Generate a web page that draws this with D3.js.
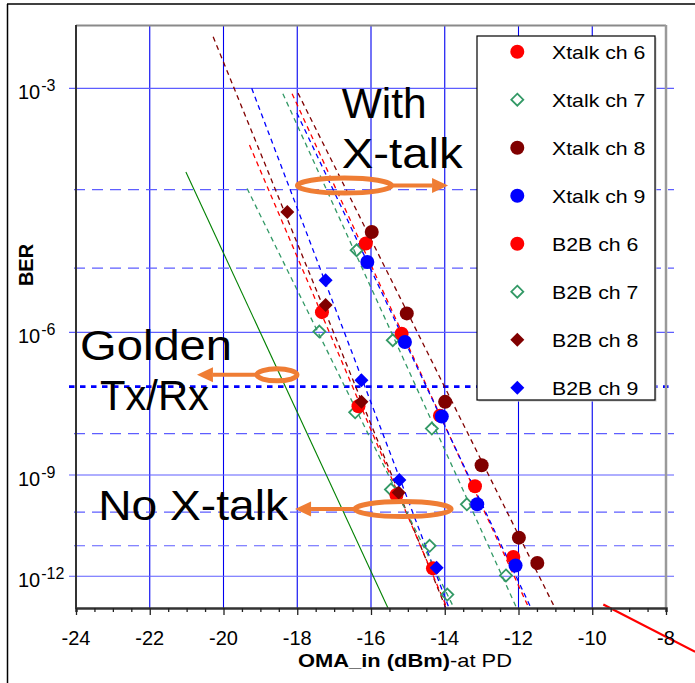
<!DOCTYPE html>
<html><head><meta charset="utf-8">
<script src="https://cdn.jsdelivr.net/npm/d3@7"></script>
<style>body{margin:0;background:#fff}svg{display:block}text{font-family:"Liberation Sans",Arial,sans-serif}</style>
</head><body>
<svg id="c" width="695" height="683"></svg>
<script>
// ---------- data ----------
const xTicks = [-24,-22,-20,-18,-16,-14,-12,-10,-8];
const xTickLabels = ["-24","-22","-20","-18","-16","-14","-12","-10","-8"];
const yMajor = [1e-3,1e-6,1e-9,1e-12];
const yTickLabels = ["-3","-6","-9","-12"];
const yMinorDashed = [1e-4,1e-5,1e-8,1e-10,1e-11];
const yDotted = [1e-7];

const seriesNames = ["Xtalk ch 6","Xtalk ch 7","Xtalk ch 8","Xtalk ch 9","B2B ch 6","B2B ch 7","B2B ch 8","B2B ch 9"];
const xtalk6 = [[-16.14,2.18e-5],[-15.17,9.5e-7],[-14.13,2.5e-8],[-13.18,5.1e-10],[-12.14,4.4e-12]];
const xtalk7 = [[-16.39,1.77e-5],[-15.41,7.3e-7],[-14.35,1.3e-8],[-13.40,1.66e-10],[-12.34,1.07e-12]];
const xtalk8 = [[-15.98,3.08e-5],[-15.03,2.06e-6],[-13.99,4.9e-8],[-13.00,1.76e-9],[-11.99,1.77e-11],[-11.49,2.8e-12]];
const xtalk9 = [[-16.10,1.22e-5],[-15.08,6.8e-7],[-14.08,2.4e-8],[-13.12,1.66e-10],[-12.08,2.3e-12]];
const b2b6 = [[-17.33,2.16e-6],[-16.34,3.96e-8],[-15.31,3.0e-10],[-14.32,1.86e-12]];
const b2b7 = [[-17.40,1.03e-6],[-16.43,2.95e-8],[-15.46,4.2e-10],[-14.41,9.9e-12],[-13.93,2.3e-13]];
const b2b8 = [[-18.27,5.47e-5],[-17.23,2.8e-6],[-16.26,4.9e-8],[-15.25,3.5e-10]];
const b2b9 = [[-17.23,6.7e-6],[-16.26,1.33e-7],[-15.23,7.5e-10],[-14.22,1.93e-12]];

// fitted trend lines (two end points each)
const fitXtalk6 = [[-18.14,9.0e-4],[-11.72,7.4e-14]];
const fitXtalk7 = [[-18.39,9.0e-4],[-12.05,7.4e-14]];
const fitXtalk8 = [[-17.98,9.1e-4],[-11.01,7.4e-14]];
const fitXtalk9 = [[-18.01,6.05e-4],[-11.66,7.4e-14]];
const fitB2b6 = [[-19.295,2.99e-4],[-13.94,7.4e-14]];
const fitB2b7 = [[-19.36,1.03e-4],[-13.75,7.4e-14]];
const fitB2b8 = [[-20.28,2.56e-3],[-13.97,7.4e-14]];
const fitB2b9 = [[-19.235,1.0e-3],[-13.885,7.4e-14]];
const goldenLine = [[-21.02,1.57e-4],[-15.54,7.4e-14]];
const redMarkLine = [[-9.70,1e-13],[-7.21,1.35e-15]];

// annotations (data coords)
const ellipses = [
  {x:-16.72, ber:1.11e-4, rx:47, ry:7.5, arrowFrom:-15.43, arrowTo:-13.91},
  {x:-18.55, ber:1.7e-7, rx:20, ry:6, arrowFrom:-19.09, arrowTo:-20.72},
  {x:-15.13, ber:1.22e-10, rx:48, ry:7.5, arrowFrom:-16.43, arrowTo:-18.06}
];
const annoTexts = [
  {t:"With", x:-16.795, ber:5.4e-4, size:42, w:85},
  {t:"X-talk", x:-16.795, ber:1.72e-4, size:42, w:121},
  {t:"Golden", x:-23.89, ber:3.2e-7, size:43, w:152},
  {t:"Tx/Rx", x:-23.35, ber:3.3e-8, size:42, w:109},
  {t:"No X-talk", x:-23.40, ber:5.9e-11, size:42, w:190}
];

// ---------- scales ----------
const L=76, R=666, T=25, B=608;
const x = d3.scaleLinear().domain([-24,-8]).range([L,R]);
const yQ = d3.scaleLog().domain([2.506,13.13]).range([T,B]);
const y = ber => yQ(-Math.log10(ber));

const svg = d3.select("#c");

// outer frame
svg.append("line").attr("x1",7).attr("x2",695).attr("y1",4).attr("y2",4).attr("stroke","#000").attr("stroke-width",1.5);
svg.append("line").attr("x1",7.5).attr("x2",7.5).attr("y1",4).attr("y2",683).attr("stroke","#000").attr("stroke-width",1.5);

// grid
const g = svg.append("g");
g.selectAll(".vg").data(xTicks.slice(1,-1)).join("line")
  .attr("x1",d=>x(d)).attr("x2",d=>x(d)).attr("y1",T).attr("y2",B)
  .attr("stroke","#0000f0").attr("stroke-width",1.1);
g.selectAll(".hg").data(yMajor).join("line")
  .attr("x1",L-7).attr("x2",R+8).attr("y1",d=>y(d)).attr("y2",d=>y(d))
  .attr("stroke","#5e5eff").attr("stroke-width",1.1);
g.selectAll(".hd").data(yMinorDashed).join("line")
  .attr("x1",L-2).attr("x2",R+8).attr("y1",d=>y(d)).attr("y2",d=>y(d))
  .attr("stroke","#5e5eff").attr("stroke-width",1.1).attr("stroke-dasharray","11,7");
g.selectAll(".hdot").data(yDotted).join("line")
  .attr("x1",L-7).attr("x2",R+8).attr("y1",d=>y(d)).attr("y2",d=>y(d))
  .attr("stroke","#0000ff").attr("stroke-width",2.6).attr("stroke-dasharray","5.5,5.5");

// clip
svg.append("clipPath").attr("id","pc").append("rect").attr("x",L).attr("y",T).attr("width",R-L).attr("height",B-T);
const plot = svg.append("g").attr("clip-path","url(#pc)");

const colors = {red:"#ff0000", green:"#339966", dred:"#800000", blue:"#0000ff"};
const fits = [
  [fitB2b8,colors.dred],[fitB2b9,colors.blue],[fitB2b6,colors.red],[fitB2b7,colors.green],
  [fitXtalk7,colors.green],[fitXtalk6,colors.red],[fitXtalk9,colors.blue],[fitXtalk8,colors.dred]
];
const lineGen = d3.line().x(d=>x(d[0])).y(d=>y(d[1]));
fits.forEach(([d,c])=>{
  plot.append("path").attr("d",lineGen(d)).attr("fill","none").attr("stroke",c)
    .attr("stroke-width",1.3).attr("stroke-dasharray","5,4");
});
plot.append("path").attr("d",lineGen(goldenLine)).attr("fill","none").attr("stroke","#008000").attr("stroke-width",1.1);

// markers
const diamond = s => `M0,${-s}L${s},0L0,${s}L${-s},0Z`;
const styles = [
  {data:xtalk6, shape:"circle", fill:colors.red, stroke:"none"},
  {data:xtalk7, shape:"odiamond", fill:"#fff", stroke:colors.green},
  {data:xtalk8, shape:"circle", fill:colors.dred, stroke:"none"},
  {data:xtalk9, shape:"circle", fill:colors.blue, stroke:"none"},
  {data:b2b6, shape:"circle", fill:colors.red, stroke:"none"},
  {data:b2b7, shape:"odiamond", fill:"#fff", stroke:colors.green},
  {data:b2b8, shape:"diamond", fill:colors.dred, stroke:"none"},
  {data:b2b9, shape:"diamond", fill:colors.blue, stroke:"none"}
];
function drawMarker(sel, st){
  if(st.shape==="circle") sel.append("circle").attr("r",7).attr("fill",st.fill);
  else if(st.shape==="diamond") sel.append("path").attr("d",diamond(7)).attr("fill",st.fill);
  else sel.append("path").attr("d",diamond(6)).attr("fill","none").attr("stroke",st.stroke).attr("stroke-width",1.8);
}
const markOrder = [5,4,6,7,1,0,3,2];
markOrder.forEach(i=>{
  const st = styles[i];
  st.data.forEach(p=>{
    const m = svg.append("g").attr("transform",`translate(${x(p[0])},${y(p[1])})`);
    drawMarker(m, st);
  });
});

// red line bottom right
svg.append("path").attr("d",lineGen(redMarkLine)).attr("stroke","#ff0000").attr("stroke-width",2.2).attr("fill","none");

// axes / frame
svg.append("line").attr("x1",L).attr("x2",R).attr("y1",T+0.5).attr("y2",T+0.5).attr("stroke","#8a8a8a").attr("stroke-width",2);
svg.append("line").attr("x1",R).attr("x2",R).attr("y1",T).attr("y2",B).attr("stroke","#9a9a9a").attr("stroke-width",2.5);
svg.append("line").attr("x1",L).attr("x2",L).attr("y1",T).attr("y2",B+1).attr("stroke","#333").attr("stroke-width",2);
const xAxis = d3.axisBottom(x).tickValues(d3.range(-24,-7.99,0.5)).tickSize(4).tickFormat("");
const ax = svg.append("g").attr("transform",`translate(0,${B})`).call(xAxis);
ax.select(".domain").attr("stroke","#333").attr("stroke-width",2.5);
ax.selectAll(".tick line").attr("stroke","#222").attr("stroke-width",1.3)
  .attr("y2",d=>Number.isInteger(d/2)?7:4);
svg.selectAll(".xl").data(xTicks).join("text")
  .attr("x",(d)=>x(d)).attr("y",645).attr("text-anchor","middle")
  .attr("font-size",20).attr("fill","#000").text((d,i)=>xTickLabels[i]);

// y tick labels
yMajor.forEach((v,i)=>{
  const t = svg.append("text").attr("x",18).attr("y",y(v)+11).attr("font-size",20).attr("fill","#000");
  t.append("tspan").text("10");
  t.append("tspan").attr("dy",-8).attr("font-size",16).attr("dx",1).text(yTickLabels[i]);
});

// axis titles
svg.append("text").attr("transform","translate(33,265) rotate(-90)").attr("text-anchor","middle")
  .attr("font-size",20).attr("font-weight","bold").text("BER");
const xt = svg.append("text").attr("x",298).attr("y",667).attr("font-size",19);
xt.append("tspan").attr("font-weight","bold").text("OMA_in (dBm)");
xt.append("tspan").text("-at PD");
xt.attr("textLength",214).attr("lengthAdjust","spacingAndGlyphs");

// legend
const lg = svg.append("g");
lg.append("rect").attr("x",478.5).attr("y",37.5).attr("width",178).attr("height",364).attr("fill","#c8c8c8");
lg.append("rect").attr("x",477).attr("y",36).attr("width",178).attr("height",364).attr("fill","#fff").attr("stroke","#000").attr("stroke-width",1.2);
seriesNames.forEach((n,i)=>{
  const cy = 51.7 + i*48;
  const m = lg.append("g").attr("transform",`translate(517.3,${cy})`);
  drawMarker(m, styles[i]);
  const t = lg.append("text").attr("x",552).attr("y",cy+6.8).attr("font-size",19).attr("fill","#000").text(n);
  const w = t.node().getComputedTextLength();
  t.attr("textLength",w*1.12).attr("lengthAdjust","spacingAndGlyphs");
});

// annotations
const orange = "#ef7d34";
ellipses.forEach(e=>{
  const cy = y(e.ber);
  svg.append("ellipse").attr("cx",x(e.x)).attr("cy",cy).attr("rx",e.rx).attr("ry",e.ry)
    .attr("fill","none").attr("stroke",orange).attr("stroke-width",5);
  const x0 = x(e.arrowFrom), x1 = x(e.arrowTo), dir = Math.sign(x1-x0);
  const xb = x1 - dir*16;
  svg.append("line").attr("x1",x0).attr("x2",xb).attr("y1",cy).attr("y2",cy).attr("stroke",orange).attr("stroke-width",4);
  svg.append("path").attr("d",`M${x1},${cy}L${xb},${cy-7.5}L${xb},${cy+7.5}Z`).attr("fill",orange);
});
annoTexts.forEach(a=>{
  svg.append("text").attr("x",x(a.x)).attr("y",y(a.ber)).attr("font-size",a.size).attr("fill","#000")
    .attr("textLength",a.w).attr("lengthAdjust","spacingAndGlyphs").text(a.t);
});
</script>
</body></html>
